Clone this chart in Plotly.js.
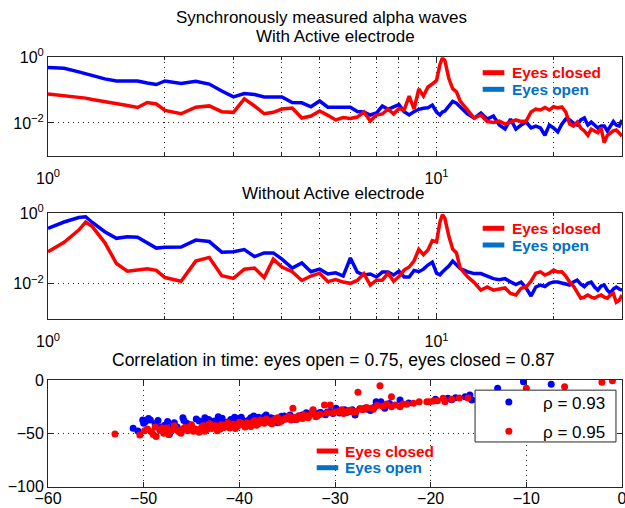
<!DOCTYPE html>
<html>
<head>
<meta charset="utf-8">
<script src="https://cdn.plot.ly/plotly-3.0.1.min.js"></script>
<style>html,body{margin:0;padding:0;background:#fff;}#chart{width:625px;height:508px;}</style>
</head>
<body>
<div id="chart"></div>
<script>
// Frequencies (Hz) shared by the four spectra
const freq = [1.0,1.1,1.2,1.25,1.3,1.4,1.5,1.6,1.7,1.8,1.9,
  2.0,2.2,2.4,2.6,2.8,
  3.0,3.2,3.4,3.6,3.8,
  4.0,4.25,4.5,4.75,
  5.0,5.25,5.5,5.75,
  6.0,6.25,6.5,6.75,
  7.0,7.25,7.5,7.75,
  8.0,8.25,8.5,8.75,
  9.0,9.25,9.5,9.75,
  10,10.2,10.35,10.5,10.75,
  11,11.25,11.5,
  12,12.5,13,13.5,14,14.5,15,15.5,16,16.5,17,17.5,18,18.5,19,19.5,20,
  20.5,21,21.5,22,22.5,23,23.5,24,24.5,25,25.5,26,26.5,27,27.5,28,28.5,29,29.5,30];

// With active electrode
const openWith = [0.49,0.46,0.36,0.316,0.27,0.22,0.19,0.19,0.19,0.164,0.148,
  0.19,0.158,0.185,0.153,0.094,
  0.062,0.079,0.073,0.062,0.063,
  0.062,0.042,0.041,0.031,
  0.0465,0.030,0.030,0.0305,
  0.030,0.0223,0.0215,0.0174,
  0.020,0.0327,0.026,0.031,
  0.036,0.022,0.0174,0.022,
  0.026,0.028,0.029,0.035,
  0.0215,0.0174,0.0215,0.023,0.031,
  0.045,0.04,0.030,
  0.0187,0.014,0.020,0.0131,0.0162,0.0086,0.0065,0.0131,0.0065,0.0086,0.0106,0.0070,0.0080,0.0070,0.0042,0.0086,0.0070,
  0.0053,0.0092,0.0131,0.0123,0.0099,0.0086,0.0123,0.0141,0.0086,0.0106,0.0086,0.0070,0.0080,0.0080,0.0057,0.0080,0.011,0.0086,0.0080,0.0123];
const closedWith = [0.076,0.069,0.061,0.057,0.052,0.045,0.041,0.034,0.0295,0.042,0.0377,
  0.024,0.019,0.030,0.033,0.022,
  0.021,0.054,0.0327,0.019,0.021,
  0.0265,0.0284,0.0141,0.0162,
  0.023,0.017,0.0123,0.0145,
  0.0136,0.0151,0.0215,0.0114,
  0.0174,0.0187,0.0265,0.0187,
  0.0275,0.0247,0.066,0.0265,
  0.108,0.066,0.124,0.153,
  0.2,0.6,0.95,0.8,0.23,
  0.11,0.089,0.0465,
  0.0247,0.0141,0.0174,0.011,0.0103,0.0114,0.0092,0.011,0.0123,0.011,0.0114,0.0215,0.0265,0.0247,0.0295,0.0247,0.031,
  0.0284,0.0305,0.0215,0.0092,0.0080,0.0106,0.0070,0.0057,0.0042,0.0065,0.0057,0.0050,0.0070,0.0025,0.0042,0.0050,0.0057,0.0061,0.0050,0.0040];

// Without active electrode
const openWithout = [0.375,0.566,0.76,0.80,0.55,0.30,0.195,0.215,0.21,0.15,0.103,
  0.108,0.110,0.174,0.158,0.079,
  0.081,0.094,0.059,0.075,0.075,
  0.050,0.028,0.039,0.022,
  0.026,0.019,0.0205,0.0166,
  0.054,0.0215,0.0177,0.019,
  0.0156,0.0215,0.0215,0.0177,
  0.023,0.0156,0.0156,0.024,
  0.022,0.026,0.034,0.041,
  0.020,0.018,0.0215,0.0245,0.0318,
  0.044,0.034,0.027,
  0.022,0.0195,0.0195,0.0166,0.014,0.013,0.014,0.0113,0.0095,0.0112,0.0076,0.0045,0.0081,0.0092,0.0084,0.0103,0.0113,
  0.0112,0.0106,0.0095,0.0092,0.0112,0.0127,0.0098,0.0083,0.0103,0.0112,0.0081,0.0066,0.0086,0.0092,0.0066,0.0054,0.0071,0.0081,0.0071,0.0066];
const closedWithout = [0.081,0.15,0.335,0.566,0.42,0.148,0.0375,0.0228,0.0245,0.0265,0.024,
  0.015,0.0118,0.044,0.056,0.017,
  0.0142,0.026,0.028,0.015,0.05,
  0.03,0.022,0.0124,0.0166,
  0.020,0.0115,0.0131,0.0112,
  0.0103,0.0124,0.0195,0.0092,
  0.0127,0.0127,0.020,0.0118,
  0.016,0.0245,0.03,0.045,
  0.095,0.067,0.0906,0.168,
  0.155,0.566,0.90,0.735,0.226,
  0.097,0.075,0.028,
  0.016,0.0108,0.0066,0.0081,0.0066,0.0071,0.0076,0.0053,0.0048,0.0075,0.0081,0.0118,0.020,0.0218,0.0177,0.020,0.0245,
  0.0215,0.0218,0.0166,0.0112,0.0086,0.0059,0.0039,0.0042,0.0048,0.0042,0.0039,0.0044,0.0048,0.0042,0.0039,0.0048,0.0053,0.0030,0.0034,0.0048];

// Correlation in time (scatter)
const openX = [-51.1,-50.6,-50.1,-50.0,-49.5,-49.3,-48.8,-48.2,-47.5,-47.3,-47.0,-46.8,-46.2,-46.1,-45.9,-45.8,-45.2,-44.9,-44.5,-43.8,-43.6,-43.5,-43.2,-42.6,-42.2,-42.2,-41.8,-41.3,-40.9,-40.5,-40.5,-40.1,-39.6,-39.2,-38.8,-38.5,-38.3,-37.9,-37.4,-37.2,-36.9,-36.5,-36.1,-36.0,-35.6,-35.1,-34.7,-34.7,-34.2,-33.8,-33.3,-32.8,-32.4,-32.3,-31.9,-31.5,-31.0,-30.5,-29.9,-29.5,-29.0,-28.5,-27.9,-27.4,-26.9,-26.3,-25.7,-25.2,-24.8,-24.3,-23.2,-18.2,-17.4,-16.4,-15.9,-15.7,-14.8,-13.0,-10.3,-7.4,
  -49.8,-48.5,-47.8,-46.5,-45.5,-44.2,-43.0,-42.0,-41.0,-40.2,-39.8,-39.0,-38.0,-37.6,-36.7,-35.8,-35.3,-34.5,-33.5,-33.0,-31.7,-30.8,-30.2,-28.8,-28.2,-26.6,-25.9,-22.3,-19.5,-17.8];
const openY = [-45.3,-47.8,-37.5,-40.6,-36,-37.5,-41,-44,-39,-50.9,-43.5,-40,-47,-49,-35.3,-38,-42,-45.5,-36.5,-40.5,-35.3,-44,-37,-38.5,-42,-34.4,-35.8,-39.5,-37,-43,-35,-36,-38,-41,-35.5,-33.7,-39,-36.5,-34.5,-32.8,-38,-36,-36.6,-40,-34,-36.5,-33.5,-32.8,-37,-35,-32.5,-34.5,-31.5,-28.4,-33.8,-30.5,-32.5,-29.5,-26.6,-31,-28,-29.5,-32.8,-27,-26.6,-28.5,-20.3,-20.5,-26.6,-22,-18.8,-17.2,-16.6,-15.6,-14,-18.8,-16,-7.8,-1.6,-4,
  -39,-38,-42.5,-44,-40.5,-38.5,-41,-39,-41.5,-38.5,-35,-37.5,-35,-37.8,-35.5,-36.5,-33.8,-35.5,-33,-30.8,-31,-30,-31.5,-30.5,-27.8,-27.5,-25.5,-21.5,-18,-18.5];
const closedX = [-53,-50.4,-49.6,-49.2,-48.8,-48.7,-48.3,-47.9,-47.6,-47.2,-46.8,-46.5,-46.1,-45.7,-45.4,-45.0,-44.6,-44.2,-43.8,-43.4,-43.1,-42.7,-42.3,-41.9,-41.6,-41.2,-40.8,-40.4,-40.0,-39.6,-39.2,-38.8,-38.4,-38.0,-37.6,-37.2,-36.8,-36.4,-36.0,-35.6,-35.2,-34.8,-34.4,-34.0,-33.6,-33.2,-32.8,-32.3,-31.8,-31.1,-30.5,-30.2,-29.6,-29.1,-28.6,-28.1,-27.6,-27.1,-26.2,-25.3,-25.0,-24.1,-24.1,-23.2,-22.5,-21.8,-20.4,-20.1,-19.7,-18.7,-18.5,-16.1,-10,-6,-2.1,-1.0,
  -49.9,-49.0,-48.1,-47.4,-46.9,-46.3,-45.9,-45.2,-44.8,-44.0,-43.6,-42.9,-42.5,-42.0,-41.4,-41.0,-40.6,-40.2,-39.8,-39.4,-39.0,-38.6,-38.2,-37.8,-37.4,-37.0,-36.6,-36.2,-35.8,-35.4,-35.0,-34.6,-34.2,-33.8,-33.4,-33.0,-32.5,-32.0,-31.5,-30.8,-30.0,-29.3,-28.8,-28.3,-27.8,-27.3,-26.7,-26.0,-25.6,-24.6,-23.7,-22.9,-21.2,-19.3,-17.8,-17.0];
const closedY = [-50.6,-51.5,-46,-48.5,-44,-53,-47,-50,-45,-48,-43,-47,-50,-44.5,-47.5,-42,-46,-49,-43,-46.5,-41,-44,-47.5,-42,-44.5,-40,-43,-45.5,-39.5,-42,-40,-43.5,-38,-41,-39,-36.5,-40,-37.5,-35.5,-38.5,-36,-34,-26.6,-37,-34.5,-32.5,-35.5,-28,-33,-23.4,-23.4,-31,-29.5,-31.5,-28.5,-30,-11.6,-28,-26.6,-5.3,-24.5,-15.6,-25,-25,-22.8,-21.8,-20.3,-20.3,-19.7,-17.2,-20.3,-17,-7.8,-6.3,-2.2,-0.7,
  -47.5,-51,-45,-51,-46,-48.5,-46,-44,-48,-45,-48,-45.5,-43,-46,-42.5,-45,-41.5,-43.5,-40.5,-44,-41.5,-39.5,-42.5,-37.5,-40.5,-38,-41,-36.5,-39.5,-37,-35.5,-37.5,-35,-33.5,-36,-34,-32,-34.5,-32,-31,-30,-28,-30.5,-28.5,-29.5,-27,-25.8,-27.5,-24,-22.5,-23.5,-22.5,-20.5,-19.5,-18,-16.8];

// Tick labels
const logXTickVals = [1, 10];
const logXTickText = ['10<sup>0</sup>', '10<sup>1</sup>'];
const logXMinorVals = [2,3,4,5,6,7,8,9,20];
const logYTickVals = [0.01, 1];
const logYTickText = ['10<sup>\u22122</sup>', '10<sup>0</sup>'];
const linXTickVals = [-60,-50,-40,-30,-20,-10,0];
const linXTickText = ['\u221260','\u221250','\u221240','\u221230','\u221220','\u221210','0'];
const linYTickVals = [-100,-50,0];
const linYTickText = ['\u2212100','\u221250','0'];

const titles = ['Synchronously measured alpha waves','With Active electrode','Without Active electrode',
  'Correlation in time: eyes open = 0.75, eyes closed = 0.87'];
const legendLabels = ['Eyes closed', 'Eyes open'];
const rhoLabels = ['ρ = 0.93', 'ρ = 0.95'];

const FONT = 'Liberation Sans, Arial, Helvetica, sans-serif';
const RED = '#ff0000', BLUE = '#0000ff', LEGBLUE = '#0070c8', AX = '#262626';
const nb = n => '\u00a0'.repeat(n);

const lineTrace = (y, color, xa, ya) => ({x: freq, y: y, type: 'scatter', mode: 'lines',
  line: {color: color, width: 3.5}, xaxis: xa, yaxis: ya, showlegend: false, hoverinfo: 'skip'});

const data = [
  lineTrace(openWith, BLUE, 'x', 'y'),
  lineTrace(closedWith, RED, 'x', 'y'),
  lineTrace(openWithout, BLUE, 'x2', 'y2'),
  lineTrace(closedWithout, RED, 'x2', 'y2'),
  {x: openX, y: openY, type: 'scatter', mode: 'markers', marker: {color: BLUE, size: 7},
   xaxis: 'x3', yaxis: 'y3', name: nb(3) + rhoLabels[0], legendgroup: 'a', hoverinfo: 'skip'},
  {x: closedX, y: closedY, type: 'scatter', mode: 'markers', marker: {color: RED, size: 7},
   xaxis: 'x3', yaxis: 'y3', name: nb(3) + rhoLabels[1], legendgroup: 'b', hoverinfo: 'skip'}
];

const axCommon = {showline: true, linecolor: AX, linewidth: 1, mirror: 'ticks', ticks: 'inside',
  ticklen: 5, tickcolor: AX, zeroline: false, showgrid: true, gridcolor: AX, gridwidth: 1,
  griddash: '1px,4px', tickfont: {family: FONT, size: 16, color: '#000'}, fixedrange: true,
  ticklabeloverflow: 'allow'};

const logX = (dom, anchor) => Object.assign({}, axCommon, {type: 'log', range: [0, Math.log10(30)],
  domain: dom, anchor: anchor, tickmode: 'array', tickvals: logXTickVals, ticktext: logXTickText,
  ticklabelstandoff: 8,
  minor: {tickmode: 'array', tickvals: logXMinorVals, ticks: 'inside', ticklen: 3, tickcolor: AX,
    showgrid: true, gridcolor: AX, gridwidth: 1, griddash: '1px,4px'}});
const logY = (dom, anchor) => Object.assign({}, axCommon, {type: 'log', range: [-3, 0],
  domain: dom, anchor: anchor, tickmode: 'array', tickvals: logYTickVals, ticktext: logYTickText});

const ann = (text, x, y, size) => ({text: text, x: x, y: y, xref: 'paper', yref: 'paper', showarrow: false,
  xanchor: 'center', yanchor: 'middle', borderpad: 0, font: {family: FONT, size: size, color: '#000'}});

// Hand-placed "Eyes closed / Eyes open" keys (line sample + coloured bold text)
const keyPos = [
  {x0: 0.7573, x1: 0.795, tx: 0.8066, yc: 0.8569, yo: 0.8242},
  {x0: 0.7573, x1: 0.795, tx: 0.8066, yc: 0.5506, yo: 0.5177},
  {x0: 0.4681, x1: 0.5057, tx: 0.5165, yc: 0.1122, yo: 0.0793}
];
const shapes = [];
const annotations = [
  ann(titles[0], 0.477, 0.966, 17),
  ann(titles[1], 0.5, 0.929, 17),
  ann(titles[2], 0.497, 0.62, 17),
  ann(titles[3], 0.498, 0.291, 17.5)
];
keyPos.forEach(k => {
  [[k.yc, RED, legendLabels[0]], [k.yo, LEGBLUE, legendLabels[1]]].forEach(([yy, col, lab]) => {
    shapes.push({type: 'line', xref: 'paper', yref: 'paper', x0: k.x0, x1: k.x1, y0: yy, y1: yy,
      line: {color: col, width: 5}, layer: 'above'});
    annotations.push({text: '<b>' + lab + '</b>', x: k.tx, y: yy, xref: 'paper', yref: 'paper',
      showarrow: false, xanchor: 'left', yanchor: 'middle', borderpad: 0,
      font: {family: FONT, size: 15.4, color: col}});
  });
});
// rho legend box
shapes.push({type: 'rect', xref: 'paper', yref: 'paper', x0: 0.744, x1: 0.9895, y0: 0.13, y1: 0.232,
  line: {color: AX, width: 1}, fillcolor: '#fff', layer: 'above'});

const layout = {
  width: 625, height: 508,
  margin: {l: 48, r: 3, t: 0, b: 0},
  paper_bgcolor: '#fff', plot_bgcolor: '#fff',
  xaxis: logX([0, 1], 'y'),
  yaxis: logY([0.6935, 0.8872], 'x'),
  xaxis2: logX([0, 1], 'y2'),
  yaxis2: logY([0.372, 0.5801], 'x2'),
  xaxis3: Object.assign({}, axCommon, {range: [-60, 0], domain: [0, 1], anchor: 'y3',
    tickmode: 'array', tickvals: linXTickVals, ticktext: linXTickText, ticklabelstandoff: -3}),
  yaxis3: Object.assign({}, axCommon, {range: [-100, 0], domain: [0.0419, 0.252], anchor: 'x3',
    tickmode: 'array', tickvals: linYTickVals, ticktext: linYTickText}),
  legend: {x: 0.768, y: 0.243, xanchor: 'left', yanchor: 'top', bgcolor: 'rgba(0,0,0,0)', borderwidth: 0,
    font: {family: FONT, size: 17, color: '#000'}, itemwidth: 30, tracegroupgap: 4},
  shapes: shapes,
  annotations: annotations,
  showlegend: true
};

Plotly.newPlot('chart', data, layout, {staticPlot: true, displayModeBar: false});
</script>
</body>
</html>
